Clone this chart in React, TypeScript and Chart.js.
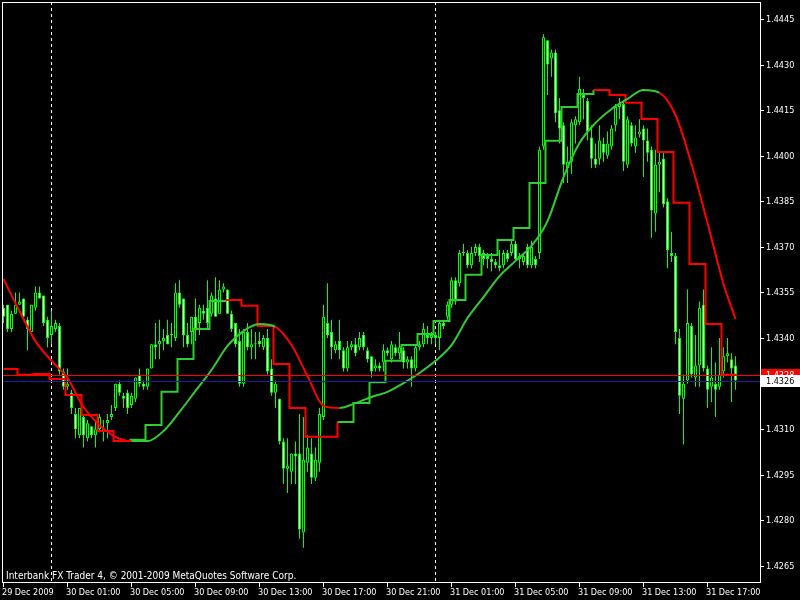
import React, { useEffect, useRef } from "react";
import { Chart, registerables } from "chart.js";

Chart.register(...registerables);

// ---- data (EURUSD M15, 29 Dec 2009 21:00 -> 31 Dec 2009 18:45) ----
const openP = [
  1.4350, 1.4351, 1.4343, 1.4348, 1.4351, 1.4353, 1.4346, 1.4342, 1.4350, 1.4355,
  1.4354, 1.4346, 1.4341, 1.4343, 1.4344, 1.4329, 1.4324, 1.4322, 1.4315, 1.4308,
  1.4314, 1.4307, 1.4311, 1.4308, 1.4310, 1.4310, 1.4312, 1.4314, 1.4317, 1.4325,
  1.4321, 1.4322, 1.4318, 1.4320, 1.4328, 1.4325, 1.4324, 1.4330, 1.4338, 1.4338,
  1.4339, 1.4341, 1.4341, 1.4340, 1.4355, 1.4353, 1.4341, 1.4342, 1.4347, 1.4345,
  1.4349, 1.4350, 1.4348, 1.4353, 1.4348, 1.4356, 1.4356, 1.4348, 1.4345, 1.4339,
  1.4325, 1.4342, 1.4337, 1.4338, 1.4339, 1.4337, 1.4340, 1.4330, 1.4322, 1.4320,
  1.4306, 1.4297, 1.4296, 1.4302, 1.4302, 1.4276, 1.4299, 1.4302, 1.4294, 1.4299,
  1.4314, 1.4345, 1.4342, 1.4336, 1.4339, 1.4336, 1.4330, 1.4337, 1.4338, 1.4337,
  1.4341, 1.4336, 1.4334, 1.4330, 1.4331, 1.4332, 1.4336, 1.4333, 1.4337, 1.4335,
  1.4336, 1.4332, 1.4333, 1.4330, 1.4337, 1.4338, 1.4341, 1.4340, 1.4341, 1.4340,
  1.4345, 1.4347, 1.4351, 1.4359, 1.4358, 1.4368, 1.4368, 1.4364, 1.4368, 1.4370,
  1.4368, 1.4367, 1.4366, 1.4365, 1.4364, 1.4364, 1.4368, 1.4368, 1.4371, 1.4367,
  1.4365, 1.4370, 1.4364, 1.4366, 1.4368, 1.4403, 1.4438, 1.4432, 1.4434, 1.4415,
  1.4410, 1.4396, 1.4398, 1.4410, 1.4411, 1.4420, 1.4418, 1.4406, 1.4399, 1.4399,
  1.4404, 1.4400, 1.4403, 1.4410, 1.4416, 1.4417, 1.4397, 1.4410, 1.4403, 1.4407,
  1.4409, 1.4405, 1.4402, 1.4381, 1.4397, 1.4399, 1.4385, 1.4368, 1.4367, 1.4340,
  1.4320, 1.4326, 1.4344, 1.4327, 1.4331, 1.4351, 1.4330, 1.4324, 1.4325, 1.4324,
  1.4329, 1.4334, 1.4333, 1.4331,
];
const highP = [
  1.4351, 1.4351, 1.4349, 1.4355, 1.4355, 1.4353, 1.4347, 1.4351, 1.4357, 1.4357,
  1.4354, 1.4347, 1.4349, 1.4346, 1.4345, 1.4330, 1.4330, 1.4323, 1.4317, 1.4317,
  1.4315, 1.4313, 1.4311, 1.4313, 1.4315, 1.4313, 1.4315, 1.4318, 1.4325, 1.4326,
  1.4322, 1.4323, 1.4322, 1.4327, 1.4330, 1.4326, 1.4330, 1.4338, 1.4345, 1.4346,
  1.4343, 1.4346, 1.4345, 1.4358, 1.4359, 1.4353, 1.4345, 1.4347, 1.4353, 1.4351,
  1.4351, 1.4359, 1.4355, 1.4360, 1.4359, 1.4358, 1.4356, 1.4349, 1.4345, 1.4343,
  1.4343, 1.4345, 1.4343, 1.4342, 1.4342, 1.4341, 1.4343, 1.4333, 1.4326, 1.4320,
  1.4307, 1.4307, 1.4302, 1.4306, 1.4315, 1.4314, 1.4308, 1.4307, 1.4304, 1.4317,
  1.4351, 1.4358, 1.4346, 1.4339, 1.4346, 1.4337, 1.4339, 1.4339, 1.4340, 1.4342,
  1.4342, 1.4337, 1.4334, 1.4333, 1.4332, 1.4338, 1.4337, 1.4339, 1.4338, 1.4342,
  1.4337, 1.4334, 1.4334, 1.4338, 1.4339, 1.4345, 1.4344, 1.4342, 1.4342, 1.4346,
  1.4346, 1.4352, 1.4360, 1.4360, 1.4369, 1.4371, 1.4369, 1.4370, 1.4371, 1.4371,
  1.4369, 1.4368, 1.4368, 1.4366, 1.4369, 1.4369, 1.4369, 1.4372, 1.4372, 1.4368,
  1.4368, 1.4371, 1.4372, 1.4367, 1.4403, 1.4440, 1.4438, 1.4435, 1.4435, 1.4419,
  1.4411, 1.4403, 1.4412, 1.4413, 1.4426, 1.4422, 1.4419, 1.4410, 1.4404, 1.4410,
  1.4406, 1.4408, 1.4410, 1.4417, 1.4419, 1.4418, 1.4413, 1.4411, 1.4410, 1.4412,
  1.4410, 1.4409, 1.4403, 1.4402, 1.4401, 1.4401, 1.4386, 1.4375, 1.4368, 1.4343,
  1.4328, 1.4356, 1.4345, 1.4341, 1.4352, 1.4356, 1.4331, 1.4337, 1.4332, 1.4340,
  1.4337, 1.4340, 1.4335, 1.4334,
];
const lowP = [
  1.4345, 1.4342, 1.4342, 1.4348, 1.4351, 1.4346, 1.4336, 1.4342, 1.4349, 1.4353,
  1.4344, 1.4337, 1.4338, 1.4342, 1.4328, 1.4323, 1.4323, 1.4315, 1.4307, 1.4307,
  1.4304, 1.4306, 1.4307, 1.4304, 1.4309, 1.4306, 1.4307, 1.4313, 1.4316, 1.4321,
  1.4317, 1.4315, 1.4317, 1.4319, 1.4324, 1.4323, 1.4323, 1.4330, 1.4333, 1.4333,
  1.4336, 1.4338, 1.4337, 1.4339, 1.4350, 1.4337, 1.4337, 1.4338, 1.4339, 1.4341,
  1.4346, 1.4343, 1.4347, 1.4347, 1.4348, 1.4355, 1.4348, 1.4342, 1.4337, 1.4324,
  1.4324, 1.4336, 1.4333, 1.4333, 1.4337, 1.4336, 1.4328, 1.4321, 1.4317, 1.4305,
  1.4292, 1.4289, 1.4292, 1.4292, 1.4274, 1.4271, 1.4296, 1.4292, 1.4293, 1.4296,
  1.4313, 1.4340, 1.4333, 1.4335, 1.4333, 1.4329, 1.4329, 1.4336, 1.4334, 1.4336,
  1.4336, 1.4332, 1.4327, 1.4329, 1.4329, 1.4329, 1.4334, 1.4332, 1.4334, 1.4333,
  1.4330, 1.4330, 1.4324, 1.4329, 1.4336, 1.4337, 1.4338, 1.4338, 1.4338, 1.4336,
  1.4343, 1.4346, 1.4350, 1.4351, 1.4357, 1.4367, 1.4363, 1.4363, 1.4367, 1.4365,
  1.4364, 1.4363, 1.4362, 1.4363, 1.4362, 1.4363, 1.4365, 1.4367, 1.4365, 1.4363,
  1.4364, 1.4363, 1.4363, 1.4363, 1.4366, 1.4402, 1.4420, 1.4426, 1.4411, 1.4404,
  1.4391, 1.4391, 1.4394, 1.4404, 1.4410, 1.4412, 1.4405, 1.4396, 1.4396, 1.4397,
  1.4398, 1.4399, 1.4402, 1.4408, 1.4412, 1.4395, 1.4396, 1.4403, 1.4401, 1.4406,
  1.4393, 1.4398, 1.4373, 1.4375, 1.4388, 1.4383, 1.4363, 1.4365, 1.4338, 1.4315,
  1.4305, 1.4325, 1.4327, 1.4324, 1.4324, 1.4329, 1.4317, 1.4319, 1.4314, 1.4323,
  1.4327, 1.4332, 1.4319, 1.4323,
];
const closeP = [
  1.4347, 1.4343, 1.4348, 1.4351, 1.4352, 1.4347, 1.4343, 1.4351, 1.4355, 1.4353,
  1.4345, 1.4340, 1.4344, 1.4345, 1.4329, 1.4324, 1.4325, 1.4317, 1.4310, 1.4317,
  1.4308, 1.4312, 1.4308, 1.4310, 1.4314, 1.4309, 1.4313, 1.4315, 1.4325, 1.4322,
  1.4320, 1.4317, 1.4321, 1.4327, 1.4325, 1.4324, 1.4330, 1.4338, 1.4337, 1.4339,
  1.4340, 1.4338, 1.4341, 1.4355, 1.4351, 1.4341, 1.4338, 1.4347, 1.4343, 1.4350,
  1.4348, 1.4345, 1.4354, 1.4347, 1.4356, 1.4357, 1.4348, 1.4343, 1.4338, 1.4325,
  1.4342, 1.4337, 1.4338, 1.4338, 1.4338, 1.4340, 1.4329, 1.4322, 1.4325, 1.4306,
  1.4297, 1.4298, 1.4302, 1.4301, 1.4277, 1.4300, 1.4304, 1.4294, 1.4300, 1.4315,
  1.4347, 1.4341, 1.4337, 1.4338, 1.4336, 1.4330, 1.4337, 1.4338, 1.4335, 1.4340,
  1.4337, 1.4333, 1.4329, 1.4331, 1.4330, 1.4336, 1.4335, 1.4338, 1.4335, 1.4337,
  1.4332, 1.4333, 1.4330, 1.4337, 1.4338, 1.4343, 1.4340, 1.4341, 1.4340, 1.4345,
  1.4344, 1.4351, 1.4359, 1.4352, 1.4368, 1.4368, 1.4364, 1.4368, 1.4370, 1.4367,
  1.4366, 1.4366, 1.4365, 1.4364, 1.4363, 1.4368, 1.4366, 1.4371, 1.4366, 1.4366,
  1.4367, 1.4364, 1.4370, 1.4364, 1.4402, 1.4439, 1.4430, 1.4434, 1.4414, 1.4409,
  1.4397, 1.4398, 1.4411, 1.4412, 1.4422, 1.4419, 1.4408, 1.4399, 1.4397, 1.4405,
  1.4401, 1.4404, 1.4409, 1.4416, 1.4417, 1.4398, 1.4412, 1.4404, 1.4406, 1.4408,
  1.4405, 1.4401, 1.4382, 1.4397, 1.4398, 1.4384, 1.4369, 1.4367, 1.4342, 1.4321,
  1.4325, 1.4345, 1.4328, 1.4331, 1.4350, 1.4330, 1.4323, 1.4327, 1.4323, 1.4328,
  1.4334, 1.4335, 1.4330, 1.4326,
];

// smooth moving average, sampled at the first bar of every hour (+ last bar)
const smoothMA = [
  1.43594, 1.43489, 1.43390, 1.43325, 1.43269, 1.43173, 1.43114, 1.43075, 1.43061, 1.43061,
  1.43094, 1.43157, 1.43226, 1.43295, 1.43374, 1.43423, 1.43446, 1.43437, 1.43377, 1.43275,
  1.43177, 1.43170, 1.43186, 1.43206, 1.43223, 1.43252, 1.43285, 1.43325, 1.43377, 1.43466,
  1.43535, 1.43604, 1.43654, 1.43703, 1.43785, 1.43930, 1.44042, 1.44108, 1.44154, 1.44187,
  1.44216, 1.44207, 1.44134, 1.43973, 1.43779, 1.43578, 1.43463,
];
const smoothTrend = [
  "d", "d", "d", "d", "d", "d", "d", "d", "u", "u",
  "u", "u", "u", "u", "u", "u", "u", "d", "d", "d",
  "d", "u", "u", "u", "u", "u", "u", "u", "u", "u",
  "u", "u", "u", "u", "u", "u", "u", "u", "u", "u",
  "u", "d", "d", "d", "d", "d", "d",
];
// hourly (H1) moving average shown as steps
const stepMA = [
  1.43298, 1.43279, 1.43282, 1.43265, 1.43213, 1.43147, 1.43094, 1.43061, 1.43065, 1.43114,
  1.43223, 1.43331, 1.43430, 1.43522, 1.43525, 1.43506, 1.43440, 1.43315, 1.43170, 1.43075,
  1.43075, 1.43124, 1.43186, 1.43255, 1.43325, 1.43377, 1.43413, 1.43456, 1.43525, 1.43608,
  1.43673, 1.43723, 1.43762, 1.43910, 1.44049, 1.44160, 1.44203, 1.44216, 1.44200, 1.44174,
  1.44121, 1.44012, 1.43845, 1.43644, 1.43446, 1.43279,
];
const stepTrend = [
  "d", "d", "d", "d", "d", "d", "d", "d", "u", "u",
  "u", "u", "u", "u", "d", "d", "d", "d", "d", "d",
  "d", "u", "u", "u", "u", "u", "u", "u", "u", "u",
  "u", "u", "u", "u", "u", "u", "u", "d", "d", "d",
  "d", "d", "d", "d", "d", "d",
];

const timeLabels = [
  "29 Dec 2009", "30 Dec 01:00", "30 Dec 05:00", "30 Dec 09:00", "30 Dec 13:00", "30 Dec 17:00",
  "30 Dec 21:00", "31 Dec 01:00", "31 Dec 05:00", "31 Dec 09:00", "31 Dec 13:00", "31 Dec 17:00",
];
const barsPerLabel = 16; // 4 hours of M15 bars
const barsPerHour = 4;
const daySeparators = [12, 108]; // bar index of 30 Dec 00:00 and 31 Dec 00:00
const priceLabels = [
  "1.4265", "1.4280", "1.4295", "1.4310", "1.4325", "1.4340", "1.4355",
  "1.4370", "1.4385", "1.4400", "1.4415", "1.4430", "1.4445",
];
const priceLabelValues = [
  1.4265, 1.428, 1.4295, 1.431, 1.4325, 1.434, 1.4355, 1.437, 1.4385, 1.44, 1.4415, 1.443, 1.4445,
];
const bidPrice = 1.4326;
const askPrice = 1.4328;
const copyright = "Interbank FX Trader 4, \u00a9 2001-2009 MetaQuotes Software Corp.";

const Y_MAX = 1.445059;
const Y_MIN = 1.4259731;

const LIME = "#00ff00";
const UP = "#32cd32";
const DOWN = "#ff0000";
const FONT = '9px "DejaVu Sans Condensed", "Liberation Sans", sans-serif';
const FONT_COPY = '10px "DejaVu Sans Condensed", "Liberation Sans", sans-serif';

const mtPlugin = {
  id: "mt4",
  beforeDatasetsDraw(chart: any) {
    const { ctx, chartArea: a, scales } = chart;
    ctx.save();
    ctx.strokeStyle = "#ffffff";
    ctx.lineWidth = 1;
    ctx.setLineDash([3, 3]);
    for (const d of daySeparators) {
      const px = scales.x.getPixelForValue(d);
      ctx.beginPath();
      ctx.moveTo(px, a.top);
      ctx.lineTo(px, a.bottom);
      ctx.stroke();
    }
    ctx.restore();
  },
  afterDatasetsDraw(chart: any) {
    const { ctx, chartArea: a, scales } = chart;
    ctx.save();
    const ya = Math.round(scales.y.getPixelForValue(askPrice));
    const yb = Math.round(scales.y.getPixelForValue(bidPrice));
    ctx.fillStyle = "#ff0000";
    ctx.fillRect(a.left, ya, a.right - a.left, 1);
    ctx.fillStyle = "#1c1ca8";
    ctx.fillRect(a.left, yb, a.right - a.left, 1);
    ctx.restore();
  },
  afterDraw(chart: any) {
    const { ctx, chartArea: a, scales } = chart;
    const xs = scales.x;
    const ys = scales.y;
    ctx.save();
    ctx.strokeStyle = "#ffffff";
    ctx.lineWidth = 1;
    ctx.strokeRect(a.left + 0.5, a.top + 0.5, a.right - a.left, a.bottom - a.top);
    ctx.font = FONT;
    ctx.fillStyle = "#ffffff";
    // price axis
    ctx.textAlign = "left";
    ctx.textBaseline = "middle";
    priceLabelValues.forEach((v, k) => {
      const py = Math.round(ys.getPixelForValue(v));
      ctx.fillRect(a.right + 1, py, 3, 1);
      ctx.fillText(priceLabels[k], a.right + 6, py + 0.5);
    });
    // time axis
    ctx.textBaseline = "alphabetic";
    timeLabels.forEach((t, k) => {
      const px = xs.getPixelForValue(k * barsPerLabel);
      ctx.fillRect(Math.floor(px), a.bottom + 1, 1, 4);
      ctx.fillText(t, Math.floor(px) - 1, a.bottom + 13);
    });
    // copyright
    ctx.font = FONT_COPY;
    ctx.fillText(copyright, a.left + 4, a.bottom - 3);
    ctx.font = FONT;
    // price boxes
    const ya = Math.round(ys.getPixelForValue(askPrice));
    const yb = Math.round(ys.getPixelForValue(bidPrice));
    ctx.textBaseline = "middle";
    ctx.fillStyle = "#ff0000";
    ctx.fillRect(a.right + 1, ya - 6, 40, 12);
    ctx.fillStyle = "#ffffff";
    ctx.fillText(askPrice.toFixed(4), a.right + 6, ya + 0.5);
    ctx.fillStyle = "#ffffff";
    ctx.fillRect(a.right + 1, yb - 6, 40, 12);
    ctx.fillStyle = "#000000";
    ctx.fillText(bidPrice.toFixed(4), a.right + 6, yb + 0.5);
    ctx.restore();
  },
};

export default function App() {
  const ref = useRef<HTMLCanvasElement>(null);

  useEffect(() => {
    const canvas = ref.current;
    if (!canvas) return;
    const n = openP.length;
    const wickData = [];
    const bodyData = [];
    const bodyColors: string[] = [];
    for (let i = 0; i < n; i++) {
      wickData.push({ x: i, y: [lowP[i], highP[i]] });
      bodyData.push({ x: i, y: [openP[i], closeP[i]] });
      bodyColors.push(closeP[i] < openP[i] ? "#ffffff" : "#000000");
    }
    const smoothPts = smoothMA.map((v, k) => ({
      x: k < smoothMA.length - 1 ? k * barsPerHour : n - 1,
      y: v,
    }));
    const stepPts = stepMA.map((v, k) => ({ x: k === 0 ? 0 : k * barsPerHour - 0.5, y: v }));
    stepPts.push({ x: n - 0.75, y: stepMA[stepMA.length - 1] });
    const stepTrendFull = [...stepTrend, stepTrend[stepTrend.length - 1]];

    const chart = new Chart(canvas, {
      type: "bar",
      data: {
        datasets: [
          {
            type: "line",
            data: smoothPts,
            borderColor: UP,
            borderWidth: 2,
            pointRadius: 0,
            cubicInterpolationMode: "monotone",
            segment: {
              borderColor: (c: any) => (smoothTrend[c.p0DataIndex] === "u" ? UP : DOWN),
            },
            order: 1,
          } as any,
          {
            type: "line",
            data: stepPts,
            borderColor: UP,
            borderWidth: 2,
            pointRadius: 0,
            stepped: "before",
            segment: {
              borderColor: (c: any) => (stepTrendFull[c.p0DataIndex] === "u" ? UP : DOWN),
            },
            order: 2,
          } as any,
          {
            type: "bar",
            data: bodyData,
            backgroundColor: bodyColors,
            borderColor: LIME,
            borderWidth: 1,
            borderSkipped: false,
            barThickness: 3,
            grouped: false,
            inflateAmount: 0,
            minBarLength: 1,
            order: 3,
          } as any,
          {
            type: "bar",
            data: wickData,
            backgroundColor: LIME,
            borderWidth: 0,
            barThickness: 1,
            grouped: false,
            inflateAmount: 0,
            order: 4,
          } as any,
        ],
      },
      options: {
        responsive: false,
        maintainAspectRatio: false,
        animation: false,
        devicePixelRatio: 1,
        events: [],
        layout: { padding: { left: 2, top: 2, right: 40, bottom: 18 } },
        plugins: { legend: { display: false }, tooltip: { enabled: false } },
        scales: {
          x: { type: "linear", min: -0.375, max: 189.125, offset: false, display: false },
          y: { type: "linear", min: Y_MIN, max: Y_MAX, display: false },
        },
      } as any,
      plugins: [mtPlugin],
    });
    return () => chart.destroy();
  }, []);

  return (
    <div style={{ position: "fixed", left: 0, top: 0, width: 800, height: 600, background: "#000" }}>
      <canvas ref={ref} width={800} height={600} style={{ display: "block", width: 800, height: 600 }} />
    </div>
  );
}
